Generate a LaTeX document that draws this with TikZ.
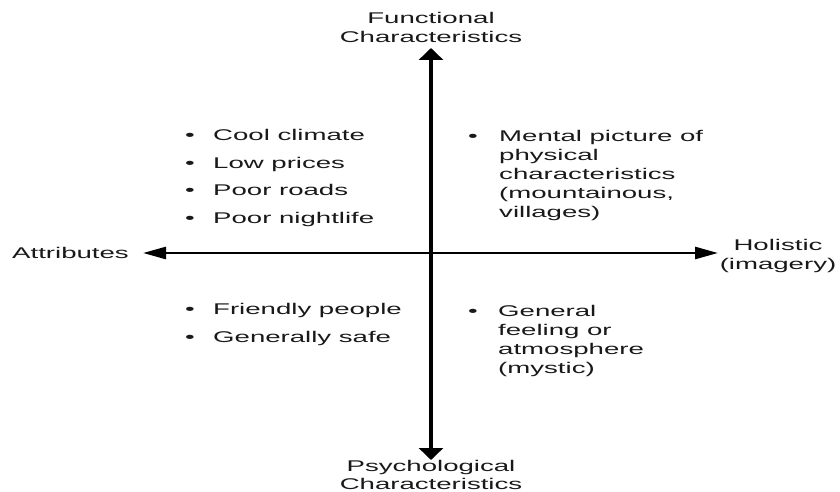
\documentclass[tikz,border=0pt]{standalone}
\usepackage{fontspec}
\setmainfont{Liberation Sans}[FakeStretch=1.78]
\usetikzlibrary{arrows.meta}
\begin{document}
\begin{tikzpicture}[x=1pt,y=-1pt,
  lbl/.style={inner sep=0pt,font=\fontsize{15.5}{19}\selectfont,text=black!90},
  blk/.style={lbl,align=left,anchor=north west},
  axlabel/.style={lbl,align=center,anchor=north},
  bul/.style={lbl,anchor=base},
  vaxis/.style={line width=4.6pt,-{Triangle[length=12pt,width=24pt]}},
  haxis/.style={line width=2.6pt,-{Triangle[length=23pt,width=12pt]}}]
\useasboundingbox (0,0) rectangle (840,492);
% axis end points
\coordinate (c) at (431,253);
\coordinate (top) at (431,48);
\coordinate (bot) at (431,460);
\coordinate (lft) at (143,253);
\coordinate (rgt) at (718,253);
\draw[vaxis] (c) -- (top);
\draw[vaxis] (c) -- (bot);
\draw[haxis] (c) -- (lft);
\draw[haxis] (c) -- (rgt);
% axis labels
\node[axlabel] (fun) at (431,11.8) {Functional\\Characteristics};
\node[axlabel,font=\fontsize{15.5}{18}\selectfont] (psy) at (431,460.5) {Psychological\\Characteristics};
\node[lbl,anchor=base west] (att) at (12,258) {Attributes};
\node[axlabel] (hol) at (778,238.7) {Holistic\\(imagery)};
% upper left
\node[bul] (b1) at (190,140.5) {•};
\node[lbl,anchor=base west] (t1) at (213,140.5) {Cool climate};
\node[bul] (b2) at (190,168) {•};
\node[lbl,anchor=base west] (t2) at (213,168) {Low prices};
\node[bul] (b3) at (190,195.5) {•};
\node[lbl,anchor=base west] (t3) at (213,195.5) {Poor roads};
\node[bul] (b4) at (190,223) {•};
\node[lbl,anchor=base west] (t4) at (213,223) {Poor nightlife};
% upper right
\node[bul] (b5) at (473,141) {•};
\node[blk] (t5) at (499,129.7) {Mental picture of\\physical\\characteristics\\(mountainous,\\villages)};
% lower left
\node[bul] (b6) at (190,314) {•};
\node[lbl,anchor=base west] (t6) at (213,314) {Friendly people};
\node[bul] (b7) at (190,342) {•};
\node[lbl,anchor=base west] (t7) at (213,342) {Generally safe};
% lower right
\node[bul] (b8) at (473,316) {•};
\node[blk] (t8) at (498,304.7) {General\\feeling or\\atmosphere\\(mystic)};
\end{tikzpicture}
\end{document}
